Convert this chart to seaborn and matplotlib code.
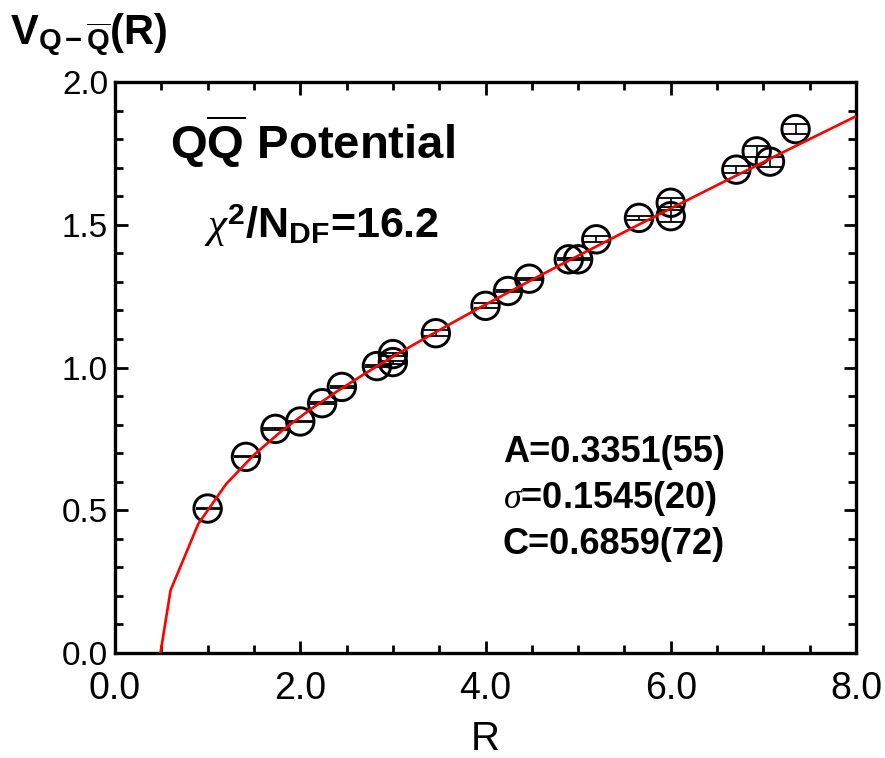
import numpy as np
import pandas as pd
import matplotlib
matplotlib.use("Agg")
import matplotlib.pyplot as plt
import seaborn as sns
from matplotlib.ticker import MultipleLocator, FormatStrFormatter

# ---- data ----
R_pts = [1.0, 1.414, 1.732, 2.0, 2.236, 2.449, 2.828, 3.0, 3.0, 3.464, 4.0, 4.243,
         4.472, 4.899, 5.0, 5.196, 5.657, 6.0, 6.0, 6.708, 6.928, 7.071, 7.348]
V_pts = [0.506, 0.687, 0.785, 0.811, 0.875, 0.932, 1.005, 1.019, 1.047, 1.120, 1.216,
         1.268, 1.311, 1.379, 1.379, 1.449, 1.524, 1.530, 1.577, 1.693, 1.757, 1.721, 1.835]
V_err = [0.002, 0.002, 0.003, 0.003, 0.003, 0.003, 0.004, 0.005, 0.005, 0.010, 0.009,
         0.003, 0.003, 0.004, 0.004, 0.010, 0.008, 0.020, 0.016, 0.012, 0.020, 0.017, 0.018]

# fit curve (as drawn, sampled every 0.3 in R)
fit_R = [0.3, 0.6, 0.9, 1.2, 1.5, 1.8, 2.1, 2.4, 2.7, 3.0, 3.3, 3.6, 3.9, 4.2,
         4.5, 4.8, 5.1, 5.4, 5.7, 6.0, 6.3, 6.6, 6.9, 7.2, 7.5, 7.8, 8.1]
fit_V = [-0.385, 0.220, 0.453, 0.592, 0.694, 0.778, 0.851, 0.917, 0.979, 1.038,
         1.094, 1.149, 1.203, 1.255, 1.307, 1.358, 1.408, 1.458, 1.508, 1.557,
         1.606, 1.655, 1.703, 1.752, 1.800, 1.848, 1.896]

x_ticks = [0.0, 2.0, 4.0, 6.0, 8.0]
y_ticks = [0.0, 0.5, 1.0, 1.5, 2.0]

pts = pd.DataFrame({"R": R_pts, "V": V_pts, "err": V_err})
fit = pd.DataFrame({"R": fit_R, "V": fit_V})

sns.set_theme(style="ticks")
plt.rcParams["font.family"] = ["Liberation Sans", "DejaVu Sans"]
plt.rcParams["mathtext.fontset"] = "custom"
plt.rcParams["mathtext.rm"] = "Liberation Sans:bold"
plt.rcParams["mathtext.bf"] = "Liberation Sans:bold"
plt.rcParams["mathtext.it"] = "Liberation Serif:italic"
plt.rcParams["mathtext.sf"] = "Liberation Sans:bold"
plt.rcParams["text.color"] = "black"
plt.rcParams["axes.labelcolor"] = "black"
plt.rcParams["xtick.color"] = "black"
plt.rcParams["ytick.color"] = "black"

W, H = 885, 758
fig = plt.figure(figsize=(W / 100, H / 100), dpi=100)
ax = fig.add_axes([115 / W, 1 - 653 / H, (856 - 115) / W, (653 - 82) / H])

ax.errorbar(pts["R"], pts["V"], yerr=pts["err"], fmt="none", ecolor="black",
            elinewidth=1.2, capsize=9, capthick=1.3, zorder=2)
sns.scatterplot(data=pts, x="R", y="V", ax=ax, marker="o", s=390,
                facecolors="none", edgecolor="black", linewidth=2.1, zorder=3)
sns.lineplot(data=fit, x="R", y="V", ax=ax, sort=False, color="#ff0000",
             linewidth=1.9, zorder=4)

ax.set_xlim(0, 8)
ax.set_ylim(0, 2)
ax.set_xticks(x_ticks)
ax.set_yticks(y_ticks)
ax.xaxis.set_major_formatter(FormatStrFormatter("%.1f"))
ax.yaxis.set_major_formatter(FormatStrFormatter("%.1f"))
ax.xaxis.set_minor_locator(MultipleLocator(0.5))
ax.yaxis.set_minor_locator(MultipleLocator(0.1))
ax.tick_params(which="both", direction="in", top=True, right=True, color="black",
               width=2.0, labelcolor="black")
ax.tick_params(which="major", length=9)
ax.tick_params(which="minor", length=5.5)
ax.tick_params(axis="x", which="major", labelsize=27, pad=13)
ax.tick_params(axis="y", which="major", labelsize=24, pad=5)
for s in ax.spines.values():
    s.set_linewidth(2.4)
    s.set_color("black")
ax.set_xlabel("R", fontsize=29, labelpad=9, color="black")
ax.set_ylabel("")

bold = dict(family="Liberation Sans", fontweight="bold", color="black")
fig.text(10 / W, 1 - 35 / H, r"$\mathrm{V}_{\mathrm{Q-\overline{Q}}}\mathrm{(R)}$",
         fontsize=30, ha="left", va="center", **bold)
fig.text(312 / W, 1 - 142 / H, r"$\mathrm{Q\overline{Q}}$ Potential",
         fontsize=34, ha="center", va="center", **bold)
fig.text(322 / W, 1 - 226 / H, r"$\chi^{\mathrm{2}}$/N$_{\mathrm{DF}}$=16.2",
         fontsize=31, ha="center", va="center", **bold)
fig.text(503 / W, 1 - 452 / H, "A=0.3351(55)", fontsize=26, ha="left", va="center", **bold)
fig.text(503 / W, 1 - 498 / H, r"$\sigma$=0.1545(20)", fontsize=26,
         ha="left", va="center", **bold)
fig.text(503 / W, 1 - 545 / H, "C=0.6859(72)", fontsize=26, ha="left", va="center", **bold)

fig.savefig("out.png", dpi=100)
